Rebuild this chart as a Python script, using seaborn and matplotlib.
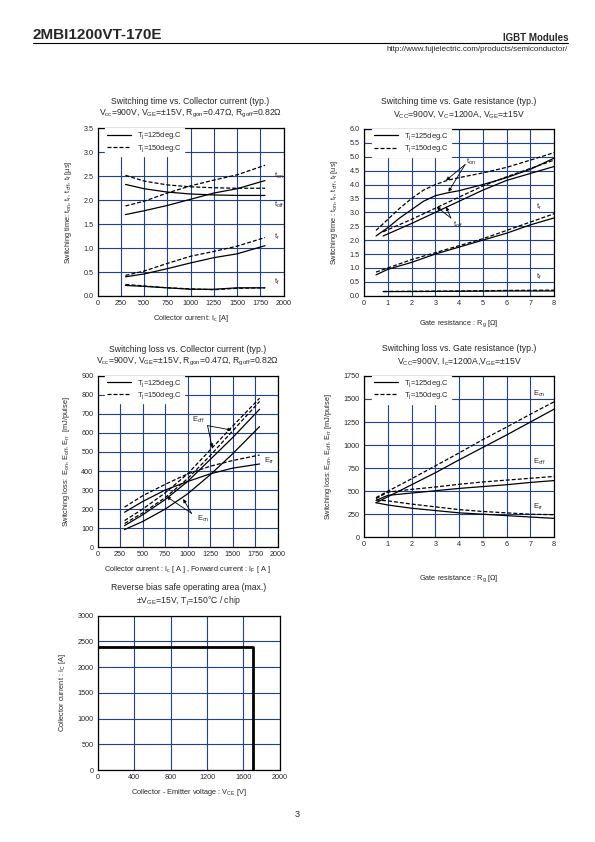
import numpy as np
import seaborn as sns
import matplotlib.pyplot as plt

sns.set_style("white")
plt.rcParams['font.family'] = ['Liberation Sans', 'DejaVu Sans']
plt.rcParams['mathtext.fontset'] = 'custom'
plt.rcParams['mathtext.rm'] = 'Liberation Sans'
plt.rcParams['mathtext.default'] = 'regular'

GRID = '#1f3f98'
SOLID = '-'
DASH = (0, (3.2, 1.6))

# --- switching time vs collector current ---
ic_t = [300, 500, 750, 1000, 1250, 1500, 1800]
ton_125 = [1.70, 1.78, 1.89, 2.02, 2.15, 2.24, 2.41]
ton_150 = [1.88, 1.98, 2.15, 2.30, 2.42, 2.53, 2.73]
toff_125 = [2.33, 2.24, 2.17, 2.13, 2.11, 2.10, 2.10]
toff_150 = [2.52, 2.40, 2.32, 2.28, 2.26, 2.25, 2.25]
tr_125 = [0.40, 0.46, 0.57, 0.69, 0.80, 0.88, 1.05]
tr_150 = [0.43, 0.52, 0.68, 0.83, 0.93, 1.04, 1.22]
tf_125 = [0.22, 0.20, 0.17, 0.14, 0.14, 0.17, 0.17]
tf_150 = [0.24, 0.21, 0.17, 0.15, 0.13, 0.16, 0.17]

# --- switching time vs gate resistance ---
rg_on = [0.5, 1, 1.5, 2, 2.5, 3, 3.5, 4, 5, 6, 7, 8]
rg_ton_125 = [2.15, 2.45, 2.80, 3.10, 3.40, 3.60, 3.70, 3.78, 4.00, 4.25, 4.55, 4.95]
rg_ton_150 = [2.35, 2.75, 3.15, 3.50, 3.80, 4.00, 4.15, 4.25, 4.42, 4.62, 4.88, 5.15]
rg_off = [0.8, 2, 3, 4, 5, 6, 7, 8]
rg_toff_125 = [2.15, 2.60, 3.00, 3.40, 3.80, 4.15, 4.40, 4.65]
rg_toff_150 = [2.30, 2.75, 3.15, 3.55, 3.95, 4.28, 4.58, 4.88]
rg_r = [0.5, 1, 2, 3, 4, 5, 6, 7, 8]
rg_tr_125 = [0.75, 0.95, 1.20, 1.50, 1.75, 2.00, 2.25, 2.55, 2.80]
rg_tr_150 = [0.85, 1.00, 1.30, 1.55, 1.80, 2.05, 2.35, 2.65, 2.95]
rg_f = [0.8, 2, 4, 6, 8]
rg_tf_125 = [0.15, 0.15, 0.16, 0.17, 0.17]
rg_tf_150 = [0.15, 0.16, 0.17, 0.19, 0.20]

# --- switching loss vs collector current ---
ic_e = [300, 500, 750, 1000, 1250, 1500, 1800]
eon_125 = [93, 135, 200, 280, 380, 490, 633]
eon_150 = [125, 180, 260, 360, 480, 610, 765]
eoff_125 = [114, 170, 250, 345, 460, 575, 724]
eoff_150 = [140, 200, 285, 385, 510, 635, 782]
err_125 = [184, 240, 300, 345, 385, 415, 437]
err_150 = [211, 270, 330, 385, 425, 455, 484]

# --- switching loss vs gate resistance ---
rg_e = [0.5, 1, 2, 3, 4, 5, 6, 7, 8]
rg_eon_125 = [375, 440, 570, 700, 840, 975, 1110, 1250, 1390]
rg_eon_150 = [430, 500, 635, 775, 915, 1060, 1195, 1335, 1470]
rg_eoff_125 = [400, 455, 480, 505, 530, 550, 570, 595, 615]
rg_eoff_150 = [420, 490, 520, 545, 575, 600, 620, 640, 660]
rg_err_125 = [375, 350, 315, 290, 265, 250, 235, 220, 205]
rg_err_150 = [405, 395, 360, 330, 300, 280, 265, 250, 245]

# --- RBSOA ---
rbsoa_v = [0, 1700, 1700]
rbsoa_i = [2400, 2400, 0]

LEG_125 = 'T$_j$=125deg.C'
LEG_150 = 'T$_j$=150deg.C'

fig = plt.figure(figsize=(5.95, 8.42), dpi=100)


def setup(ax, xt, yt, yfmt, title, xlabel, ylabel, xpad=4):
    ax.set_xlim(xt[0], xt[-1])
    ax.set_ylim(yt[0], yt[-1])
    ax.set_xticks(xt)
    ax.set_yticks(yt)
    ax.set_yticklabels([yfmt.format(v) for v in yt])
    ax.tick_params(length=0, labelsize=5.2, pad=3)
    ax.grid(True, color=GRID, lw=0.8)
    ax.set_axisbelow(True)
    for s in ax.spines.values():
        s.set_color('black')
        s.set_linewidth(0.9)
    ax.set_title(title, fontsize=6.2, pad=9, linespacing=1.25)
    ax.set_xlabel(xlabel, fontsize=5.3, labelpad=xpad)
    ax.set_ylabel(ylabel, fontsize=5.3, labelpad=7)


def pair(ax, x1, y1, x2, y2, label=True):
    sns.lineplot(x=x1, y=y1, ax=ax, color='black', lw=0.9, linestyle=SOLID,
                 label=LEG_125 if label else None)
    sns.lineplot(x=x2, y=y2, ax=ax, color='black', lw=0.9, linestyle=DASH,
                 label=LEG_150 if label else None)


def legend(ax):
    ax.legend(loc='upper left', bbox_to_anchor=(0.04, 1.0), borderaxespad=0,
              fontsize=5.4, frameon=True, framealpha=1, edgecolor='white',
              fancybox=False, handlelength=3.2, labelspacing=0.2,
              borderpad=0.3)


def arrow(ax, tail, head):
    ax.annotate('', xy=head, xytext=tail,
                arrowprops=dict(arrowstyle='-|>', lw=0.6, color='black',
                                mutation_scale=5, shrinkA=0, shrinkB=0))


# panel 1
ax1 = fig.add_axes([0.164, 0.6485, 0.3126, 0.199])
pair(ax1, ic_t, ton_125, ic_t, ton_150)
pair(ax1, ic_t, toff_125, ic_t, toff_150, False)
pair(ax1, ic_t, tr_125, ic_t, tr_150, False)
pair(ax1, ic_t, tf_125, ic_t, tf_150, False)
setup(ax1, np.arange(0, 2001, 250), np.arange(0, 3.51, 0.5), '{:.1f}',
      'Switching time vs. Collector current (typ.)\n'
      'V$_{cc}$=900V, V$_{GE}$=±15V, R$_{gon}$=0.47Ω, R$_{goff}$=0.82Ω',
      'Collector current: I$_c$ [A]',
      'Switching time: t$_{on}$, t$_r$, t$_{off}$, t$_f$ [µs]')
legend(ax1)
for lab, y in [('t$_{on}$', 2.5), ('t$_{off}$', 1.9), ('t$_r$', 1.24), ('t$_f$', 0.29)]:
    ax1.text(1900, y, lab, fontsize=5.4, va='center', ha='left')

# panel 2
ax2 = fig.add_axes([0.612, 0.6488, 0.3193, 0.198])
pair(ax2, rg_on, rg_ton_125, rg_on, rg_ton_150)
pair(ax2, rg_off, rg_toff_125, rg_off, rg_toff_150, False)
pair(ax2, rg_r, rg_tr_125, rg_r, rg_tr_150, False)
pair(ax2, rg_f, rg_tf_125, rg_f, rg_tf_150, False)
setup(ax2, np.arange(0, 9, 1), np.arange(0, 6.01, 0.5), '{:.1f}',
      'Switching time vs. Gate resistance (typ.)\n'
      'V$_{CC}$=900V, V$_C$=1200A, V$_{GE}$=±15V',
      'Gate resistance : R$_g$ [Ω]',
      'Switching time : t$_{on}$, t$_r$, t$_{off}$, t$_f$ [us]', xpad=8)
legend(ax2)
ax2.text(4.3, 4.82, 't$_{on}$', fontsize=5.4, va='center', ha='left')
arrow(ax2, (4.25, 4.72), (3.45, 4.15))
arrow(ax2, (4.25, 4.72), (3.55, 3.74))
ax2.text(3.75, 2.55, 't$_{off}$', fontsize=5.4, va='center', ha='left')
arrow(ax2, (3.65, 2.8), (3.05, 3.2))
arrow(ax2, (3.65, 2.8), (3.45, 3.2))
ax2.text(7.25, 3.2, 't$_r$', fontsize=5.4, va='center', ha='left')
ax2.text(7.25, 0.68, 't$_f$', fontsize=5.4, va='center', ha='left')

# panel 3
ax3 = fig.add_axes([0.164, 0.350, 0.3025, 0.2038])
pair(ax3, ic_e, eon_125, ic_e, eon_150)
pair(ax3, ic_e, eoff_125, ic_e, eoff_150, False)
pair(ax3, ic_e, err_125, ic_e, err_150, False)
setup(ax3, np.arange(0, 2001, 250), np.arange(0, 901, 100), '{:d}',
      'Switching loss vs. Collector current (typ.)\n'
      'V$_{cc}$=900V, V$_{GE}$=±15V, R$_{gon}$=0.47Ω, R$_{goff}$=0.82Ω',
      'Collector current : I$_c$ [ A ] , Forward current : I$_F$ [ A ]',
      'Switching loss:  E$_{on}$, E$_{off}$, E$_{rr}$  [mJ/pulse]')
legend(ax3)
ax3.text(1044, 668, 'E$_{off}$', fontsize=5.4, va='center', ha='left')
arrow(ax3, (1222, 638), (1274, 523))
arrow(ax3, (1222, 638), (1489, 615))
ax3.text(1852, 453, 'E$_{rr}$', fontsize=5.4, va='center', ha='left')
ax3.text(1100, 149, 'E$_{on}$', fontsize=5.4, va='center', ha='left')
arrow(ax3, (1044, 178), (767, 266))
arrow(ax3, (1044, 178), (952, 253))

# panel 4
ax4 = fig.add_axes([0.612, 0.3619, 0.3193, 0.1916])
pair(ax4, rg_e, rg_eon_125, rg_e, rg_eon_150)
pair(ax4, rg_e, rg_eoff_125, rg_e, rg_eoff_150, False)
pair(ax4, rg_e, rg_err_125, rg_e, rg_err_150, False)
setup(ax4, np.arange(0, 9, 1), np.arange(0, 1751, 250), '{:d}',
      'Switching loss vs. Gate resistance (typ.)\n'
      'V$_{CC}$=900V, I$_c$=1200A,V$_{GE}$=±15V',
      'Gate resistance : R$_g$ [Ω]',
      'Switching loss: E$_{on}$, E$_{off}$, E$_{rr}$ [mJ/pulse]', xpad=18)
legend(ax4)
ax4.text(7.1, 1550, 'E$_{on}$', fontsize=5.4, va='center', ha='left')
ax4.text(7.1, 820, 'E$_{off}$', fontsize=5.4, va='center', ha='left')
ax4.text(7.1, 333, 'E$_{rr}$', fontsize=5.4, va='center', ha='left')

# panel 5
ax5 = fig.add_axes([0.164, 0.0855, 0.3064, 0.1833])
sns.lineplot(x=rbsoa_v, y=rbsoa_i, ax=ax5, color='black', lw=2.0,
             sort=False, estimator=None)
setup(ax5, np.arange(0, 2001, 400), np.arange(0, 3001, 500), '{:d}',
      'Reverse bias safe operating area (max.)\n'
      '±V$_{GE}$=15V, T$_j$=150°C / chip',
      'Collector - Emitter voltage : V$_{CE}$ [V]',
      'Collector current : I$_C$ [A]')

# page header / footer
fig.text(0.055, 0.958, '2MBI1200VT-170E', fontsize=11, fontweight='bold',
         va='center', ha='left')
fig.text(0.955, 0.955, 'IGBT Modules', fontsize=7, fontweight='bold',
         va='center', ha='right')
fig.add_artist(plt.Line2D([0.055, 0.955], [0.949, 0.949], color='black',
                          lw=0.8))
fig.text(0.955, 0.941, 'http://www.fujielectric.com/products/semiconductor/',
         fontsize=5.8, va='center', ha='right')
fig.text(0.5, 0.033, '3', fontsize=6.5, ha='center', va='center')

fig.savefig('out.png', dpi=100)
